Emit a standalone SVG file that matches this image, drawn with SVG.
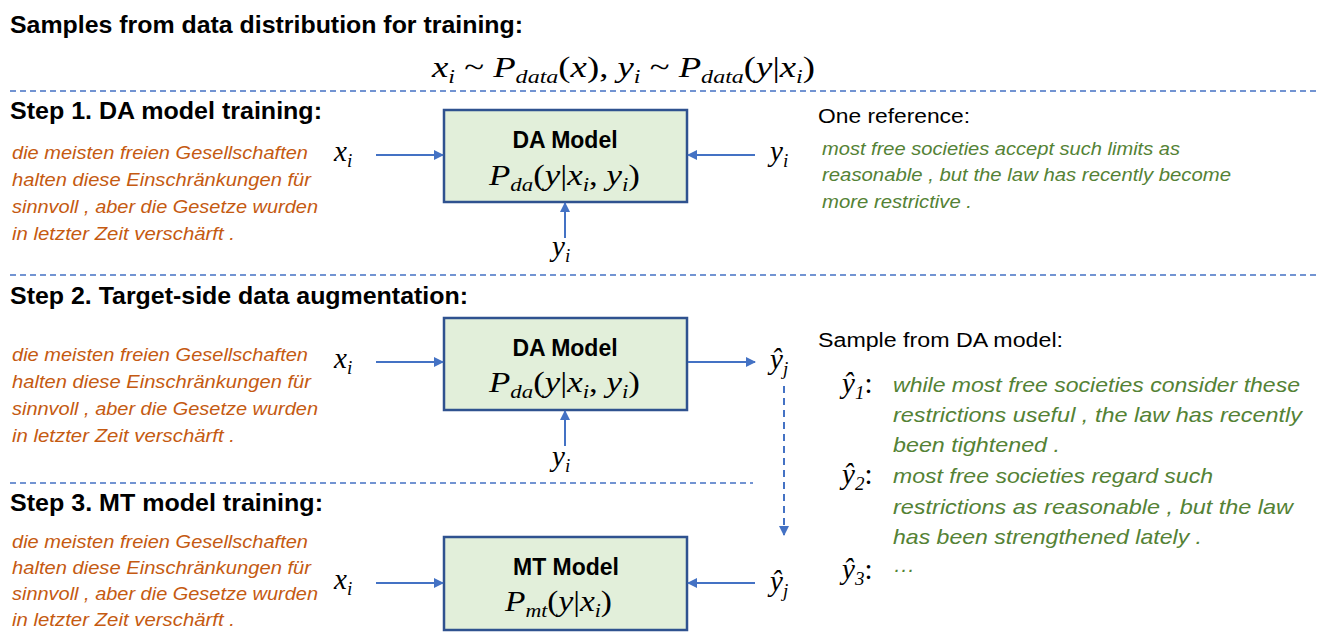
<svg xmlns="http://www.w3.org/2000/svg" width="1329" height="638" viewBox="0 0 1329 638">
<defs>
<style>
.h{font-family:"Liberation Sans",Arial,sans-serif;font-weight:bold;font-size:23px;fill:#000}
.o{font-family:"Liberation Sans",Arial,sans-serif;font-style:italic;font-size:18px;fill:#C55A11}
.g{font-family:"Liberation Sans",Arial,sans-serif;font-style:italic;font-size:18px;fill:#548235}
.g2{font-family:"Liberation Sans",Arial,sans-serif;font-style:italic;font-size:21px;fill:#548235}
.n{font-family:"Liberation Sans",Arial,sans-serif;font-size:20px;fill:#000}
.m{font-family:"Liberation Serif","Times New Roman",serif;font-style:italic;font-size:29px;fill:#000}
.up{font-style:normal}
.s{font-size:19px}
.bl{font-family:"Liberation Sans",Arial,sans-serif;font-weight:bold;font-size:23px;fill:#000}
.box{fill:#E2EFDA;stroke:#2F528F;stroke-width:2.5}
.arr{stroke:#4472C4;stroke-width:2;fill:none;marker-end:url(#ah)}
.dash{stroke:#4472C4;stroke-width:1.5;stroke-dasharray:6 4;fill:none}
</style>
<marker id="ah" viewBox="0 0 10 10" refX="9" refY="5" markerWidth="5" markerHeight="5" orient="auto" markerUnits="strokeWidth">
<path d="M0,0 L10,5 L0,10 z" fill="#4472C4"/>
</marker>
</defs>

<text class="h" x="10" y="33" textLength="513" lengthAdjust="spacingAndGlyphs">Samples from data distribution for training:</text>
<text class="m" x="432" y="77" textLength="383" lengthAdjust="spacingAndGlyphs">x<tspan class="s" dy="6">i</tspan><tspan class="up" dy="-6"> ~ </tspan>P<tspan class="s" dy="6">data</tspan><tspan class="up" dy="-6">(</tspan>x<tspan class="up">),  </tspan>y<tspan class="s" dy="6">i</tspan><tspan class="up" dy="-6"> ~ </tspan>P<tspan class="s" dy="6">data</tspan><tspan class="up" dy="-6">(</tspan>y<tspan class="up">|</tspan>x<tspan class="s" dy="6">i</tspan><tspan class="up" dy="-6">)</tspan></text>

<g id="separators">
<line class="dash" x1="10" y1="91" x2="1320" y2="91"/>
<line class="dash" x1="10" y1="275" x2="1320" y2="275"/>
<line class="dash" x1="10" y1="483" x2="753" y2="483"/>
</g>

<!-- Step 1 -->
<text class="h" x="10" y="119" textLength="312" lengthAdjust="spacingAndGlyphs">Step 1. DA model training:</text>
<g id="src1">
<text class="o" x="12" y="159" textLength="296" lengthAdjust="spacingAndGlyphs">die meisten freien Gesellschaften</text>
<text class="o" x="12" y="186" textLength="299" lengthAdjust="spacingAndGlyphs">halten diese Einschränkungen für</text>
<text class="o" x="12" y="213" textLength="306" lengthAdjust="spacingAndGlyphs">sinnvoll , aber die Gesetze wurden</text>
<text class="o" x="12" y="240" textLength="223" lengthAdjust="spacingAndGlyphs">in letzter Zeit verschärft .</text>
</g>
<text class="m" x="334" y="161">x<tspan class="s" dy="6">i</tspan></text>
<g id="da1">
<rect class="box" x="444" y="110" width="243" height="92"/>
<text class="bl" x="565" y="148" text-anchor="middle">DA Model</text>
<text class="m" x="489" y="185" textLength="151" lengthAdjust="spacingAndGlyphs">P<tspan class="s" dy="6">da</tspan><tspan class="up" dy="-6">(</tspan>y<tspan class="up">|</tspan>x<tspan class="s" dy="6">i</tspan><tspan class="up" dy="-6">, </tspan>y<tspan class="s" dy="6">i</tspan><tspan class="up" dy="-6">)</tspan></text>
</g>
<text class="m" x="770" y="161">y<tspan class="s" dy="6">i</tspan></text>
<text class="m" x="552" y="256">y<tspan class="s" dy="6">i</tspan></text>
<text class="n" x="818" y="123" textLength="152" lengthAdjust="spacingAndGlyphs">One reference:</text>
<g id="ref1">
<text class="g" x="822" y="155" textLength="358" lengthAdjust="spacingAndGlyphs">most free societies accept such limits as</text>
<text class="g" x="822" y="181" textLength="409" lengthAdjust="spacingAndGlyphs">reasonable , but the law has recently become</text>
<text class="g" x="822" y="208" textLength="150" lengthAdjust="spacingAndGlyphs">more restrictive .</text>
</g>

<!-- Step 2 -->
<text class="h" x="10" y="304" textLength="458" lengthAdjust="spacingAndGlyphs">Step 2. Target-side data augmentation:</text>
<g id="src2">
<text class="o" x="12" y="361" textLength="296" lengthAdjust="spacingAndGlyphs">die meisten freien Gesellschaften</text>
<text class="o" x="12" y="388" textLength="299" lengthAdjust="spacingAndGlyphs">halten diese Einschränkungen für</text>
<text class="o" x="12" y="415" textLength="306" lengthAdjust="spacingAndGlyphs">sinnvoll , aber die Gesetze wurden</text>
<text class="o" x="12" y="442" textLength="223" lengthAdjust="spacingAndGlyphs">in letzter Zeit verschärft .</text>
</g>
<text class="m" x="334" y="368">x<tspan class="s" dy="6">i</tspan></text>
<g id="da2">
<rect class="box" x="444" y="318" width="243" height="92"/>
<text class="bl" x="565" y="356" text-anchor="middle">DA Model</text>
<text class="m" x="489" y="392" textLength="151" lengthAdjust="spacingAndGlyphs">P<tspan class="s" dy="6">da</tspan><tspan class="up" dy="-6">(</tspan>y<tspan class="up">|</tspan>x<tspan class="s" dy="6">i</tspan><tspan class="up" dy="-6">, </tspan>y<tspan class="s" dy="6">i</tspan><tspan class="up" dy="-6">)</tspan></text>
</g>
<text class="m" x="770" y="369">ŷ<tspan class="s" dy="6">j</tspan></text>
<text class="m" x="552" y="466">y<tspan class="s" dy="6">i</tspan></text>
<text class="n" x="818" y="347" textLength="245" lengthAdjust="spacingAndGlyphs">Sample from DA model:</text>
<g id="samples">
<text class="m" x="842" y="393">ŷ<tspan class="s" dy="6">1</tspan><tspan class="up" dy="-6">:</tspan></text>
<text class="g2" x="893" y="392" textLength="407" lengthAdjust="spacingAndGlyphs">while most free societies consider these</text>
<text class="g2" x="893" y="422" textLength="409" lengthAdjust="spacingAndGlyphs">restrictions useful , the law has recently</text>
<text class="g2" x="893" y="452" textLength="167" lengthAdjust="spacingAndGlyphs">been tightened .</text>
<text class="m" x="842" y="484">ŷ<tspan class="s" dy="6">2</tspan><tspan class="up" dy="-6">:</tspan></text>
<text class="g2" x="893" y="483" textLength="320" lengthAdjust="spacingAndGlyphs">most free societies regard such</text>
<text class="g2" x="893" y="514" textLength="400" lengthAdjust="spacingAndGlyphs">restrictions as reasonable , but the law</text>
<text class="g2" x="893" y="544" textLength="309" lengthAdjust="spacingAndGlyphs">has been strengthened lately .</text>
<text class="m" x="842" y="579">ŷ<tspan class="s" dy="6">3</tspan><tspan class="up" dy="-6">:</tspan></text>
<text class="g2" x="893" y="576">···</text>
</g>

<!-- Step 3 -->
<text class="h" x="10" y="511" textLength="313" lengthAdjust="spacingAndGlyphs">Step 3. MT model training:</text>
<g id="src3">
<text class="o" x="12" y="548" textLength="296" lengthAdjust="spacingAndGlyphs">die meisten freien Gesellschaften</text>
<text class="o" x="12" y="574" textLength="299" lengthAdjust="spacingAndGlyphs">halten diese Einschränkungen für</text>
<text class="o" x="12" y="600" textLength="306" lengthAdjust="spacingAndGlyphs">sinnvoll , aber die Gesetze wurden</text>
<text class="o" x="12" y="626" textLength="223" lengthAdjust="spacingAndGlyphs">in letzter Zeit verschärft .</text>
</g>
<text class="m" x="334" y="589">x<tspan class="s" dy="6">i</tspan></text>
<g id="mt">
<rect class="box" x="444" y="537" width="243" height="93"/>
<text class="bl" x="566" y="575" text-anchor="middle">MT Model</text>
<text class="m" x="505" y="611" textLength="107" lengthAdjust="spacingAndGlyphs">P<tspan class="s" dy="6">mt</tspan><tspan class="up" dy="-6">(</tspan>y<tspan class="up">|</tspan>x<tspan class="s" dy="6">i</tspan><tspan class="up" dy="-6">)</tspan></text>
</g>
<text class="m" x="770" y="591">ŷ<tspan class="s" dy="6">j</tspan></text>

<g id="connectors">
<line class="arr" x1="376" y1="155" x2="443" y2="155"/>
<line class="arr" x1="755" y1="155" x2="688" y2="155"/>
<line class="arr" x1="565" y1="238" x2="565" y2="203"/>
<line class="arr" x1="376" y1="362" x2="443" y2="362"/>
<line class="arr" x1="688" y1="362" x2="755" y2="362"/>
<line class="arr" x1="565" y1="446" x2="565" y2="411"/>
<line class="arr" x1="784" y1="386" x2="784" y2="535" style="stroke-dasharray:7 5"/>
<line class="arr" x1="376" y1="583" x2="443" y2="583"/>
<line class="arr" x1="755" y1="583" x2="688" y2="583"/>
</g>
</svg>
